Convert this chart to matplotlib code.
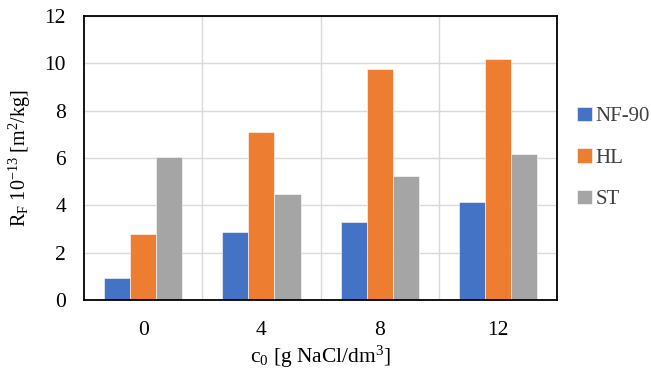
import numpy as np
import matplotlib
matplotlib.use("Agg")
from matplotlib import pyplot as plt

plt.rcParams['font.family'] = ['Liberation Serif', 'DejaVu Serif']
plt.rcParams['mathtext.default'] = 'regular'

# concentrations [g NaCl/dm3]
concentrations = ["0", "4", "8", "12"]
series_names = ["NF-90", "HL", "ST"]
nf90 = [0.92, 2.89, 3.31, 4.14]
hl = [2.77, 7.08, 9.76, 10.18]
st = [6.04, 4.47, 5.22, 6.19]
colors = ["#4472C4", "#ED7D31", "#A5A5A5"]

fig = plt.figure(figsize=(6.51, 3.74), dpi=100)
ax = fig.add_axes([0.129, 0.198, 0.727, 0.759])

x = np.arange(len(concentrations))
w = 0.22
for i, (vals, name) in enumerate(zip([nf90, hl, st], series_names)):
    ax.bar(x + (i - 1) * w, vals, w, color=colors[i], label=name,
           edgecolor="white", linewidth=0.4, zorder=3)

ax.set_xlim(-0.5, len(concentrations) - 0.5)
ax.set_ylim(0, 12)
ax.set_yticks(range(0, 13, 2))
ax.set_xticks(x)
ax.set_xticklabels(concentrations)

# vertical gridlines sit between groups
ax.set_xticks(np.arange(0.5, len(concentrations) - 0.5), minor=True)
ax.grid(axis="y", color="#d9d9d9", linewidth=1, zorder=0)
ax.grid(axis="x", which="minor", color="#d9d9d9", linewidth=1, zorder=0)

ax.tick_params(axis="both", which="both", length=0, labelsize=15.5, colors="black")
ax.tick_params(axis="x", pad=15)
ax.tick_params(axis="y", pad=13)
for s in ax.spines.values():
    s.set_color("black")
    s.set_linewidth(1.3)
    s.set_zorder(4)

ax.set_xlabel("c$_0$ [g NaCl/dm$^3$]", fontsize=15.5, labelpad=3)
ax.set_ylabel("R$_F$ 10$^{-13}$ [m$^2$/kg]", fontsize=14.5, labelpad=8)

ax.legend(loc="center left", bbox_to_anchor=(1.025, 0.5), frameon=False,
          fontsize=15, handlelength=0.7, handleheight=0.7, handletextpad=0.15,
          borderaxespad=0, labelspacing=1.05, labelcolor="#404040")

fig.savefig("out.png", dpi=100)
